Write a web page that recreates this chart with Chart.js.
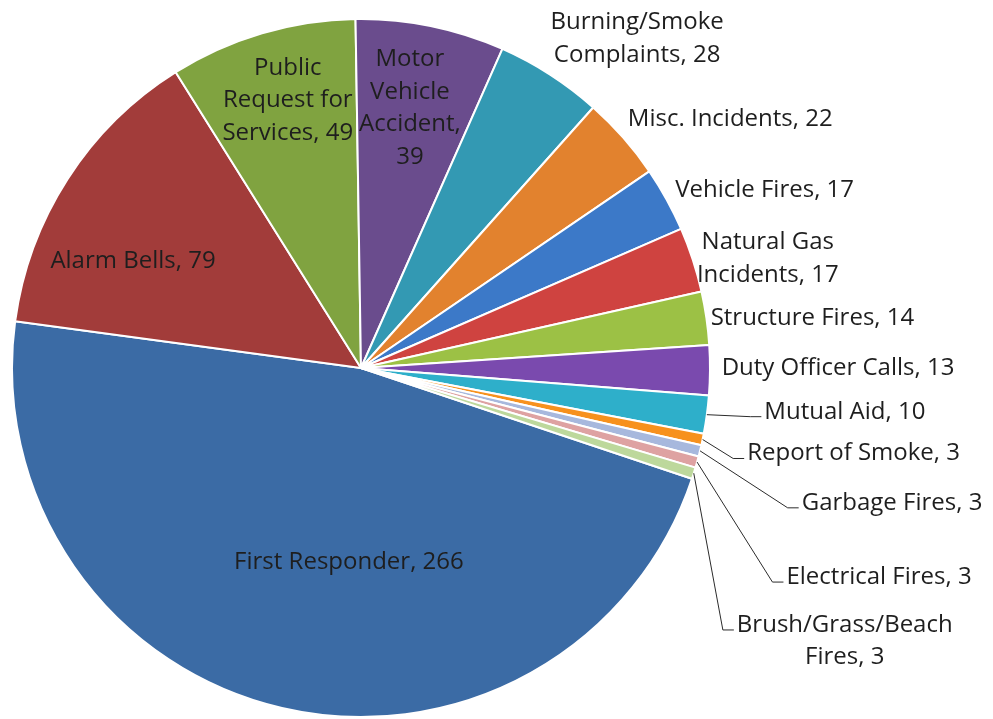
<!DOCTYPE html>
<html>
<head>
<meta charset="utf-8">
<script src="https://cdn.jsdelivr.net/npm/chart.js@4.4.0/dist/chart.umd.min.js"></script>
<style>
  html, body { margin: 0; padding: 0; background: #ffffff; }
  canvas { display: block; }
</style>
</head>
<body>
<canvas id="callsPie" width="993" height="719"></canvas>
<script>
// Calls for service by incident type
const categories = [
  'First Responder', 'Alarm Bells', 'Public Request for Services', 'Motor Vehicle Accident',
  'Burning/Smoke Complaints', 'Misc. Incidents', 'Vehicle Fires', 'Natural Gas Incidents',
  'Structure Fires', 'Duty Officer Calls', 'Mutual Aid', 'Report of Smoke',
  'Garbage Fires', 'Electrical Fires', 'Brush/Grass/Beach Fires'
];
const callCounts = [266, 79, 49, 39, 28, 22, 17, 17, 14, 13, 10, 3, 3, 3, 3];

const sliceColors = [
  '#3b6ba5', '#a23c3a', '#80a340', '#6a4c8d', '#3399b3', '#e2822e', '#3c79c8', '#cf4340',
  '#9cc145', '#7a4aae', '#2eafca', '#f7911d', '#a7b8dd', '#dea2a2', '#bdd89c'
];

// Label placement: r = fraction of the radius along the slice's middle ray,
// dx/dy = pixel nudge of the text block centre, wrap = max line width,
// leader = draw a connector from the slice edge to the text.
const labelPlacement = [
  { r: 0.57, dx: 33,  dy: 0,   wrap: 1000 },
  { r: 0.60, dx: -52, dy: 7,   wrap: 1000 },
  { r: 0.80, dx: 6,   dy: 0,   wrap: 135 },
  { r: 0.76, dx: -4,  dy: 0,   wrap: 110 },
  { r: 1.00, dx: 87,  dy: -36, wrap: 185 },
  { r: 1.00, dx: 107, dy: -19, wrap: 1000 },
  { r: 1.00, dx: 98,  dy: -9,  wrap: 1000 },
  { r: 1.00, dx: 75,  dy: -1,  wrap: 150 },
  { r: 1.00, dx: 106, dy: 0,   wrap: 1000 },
  { r: 1.00, dx: 128, dy: -2,  wrap: 1000 },
  { r: 1.00, dx: 138, dy: -3,  wrap: 1000, leader: true },
  { r: 1.00, dx: 151, dy: 14,  wrap: 1000, leader: true },
  { r: 1.00, dx: 192, dy: 52,  wrap: 1000, leader: true },
  { r: 1.00, dx: 182, dy: 115, wrap: 1000, leader: true },
  { r: 1.00, dx: 151, dy: 168, wrap: 225,  leader: true }
];

const FONT = '24px "Open Sans", "Noto Sans", sans-serif';
const TEXT_COLOR = '#1e1e1e';
const LINE_HEIGHT = 32.5;

function wrapText(ctx, text, maxWidth) {
  const words = text.split(' ');
  const lines = [];
  let current = '';
  words.forEach(word => {
    const trial = current ? current + ' ' + word : word;
    if (current && ctx.measureText(trial).width > maxWidth) {
      lines.push(current);
      current = word;
    } else {
      current = trial;
    }
  });
  if (current) lines.push(current);
  return lines;
}

const sliceLabels = {
  id: 'sliceLabels',
  afterDatasetsDraw(chart) {
    const ctx = chart.ctx;
    const meta = chart.getDatasetMeta(0);
    ctx.save();
    ctx.font = FONT;
    ctx.fillStyle = TEXT_COLOR;
    ctx.strokeStyle = '#2b2b2b';
    ctx.lineWidth = 1;
    ctx.textAlign = 'center';
    ctx.textBaseline = 'middle';
    meta.data.forEach((arc, i) => {
      const p = arc.getProps(['x', 'y', 'startAngle', 'endAngle', 'outerRadius'], true);
      const mid = (p.startAngle + p.endAngle) / 2;
      const place = labelPlacement[i];
      const cx = p.x + Math.cos(mid) * p.outerRadius * place.r + place.dx;
      const cy = p.y + Math.sin(mid) * p.outerRadius * place.r + place.dy;
      const lines = wrapText(ctx, categories[i] + ', ' + callCounts[i], place.wrap);
      const top = cy - (lines.length - 1) * LINE_HEIGHT / 2;
      lines.forEach((line, k) => ctx.fillText(line, cx, top + k * LINE_HEIGHT));
      if (place.leader) {
        const widest = Math.max(...lines.map(l => ctx.measureText(l).width));
        const left = cx - widest / 2;
        const ex = p.x + Math.cos(mid) * p.outerRadius;
        const ey = p.y + Math.sin(mid) * p.outerRadius;
        ctx.beginPath();
        ctx.moveTo(ex, ey);
        ctx.lineTo(left - 14, top + 5);
        ctx.lineTo(left - 3, top + 5);
        ctx.stroke();
      }
    });
    ctx.restore();
  }
};

new Chart(document.getElementById('callsPie'), {
  type: 'pie',
  data: {
    labels: categories,
    datasets: [{
      data: callCounts,
      backgroundColor: sliceColors,
      borderColor: '#ffffff',
      borderWidth: 2,
      hoverOffset: 0,
      offset: 0,
      radius: 349
    }]
  },
  options: {
    responsive: false,
    devicePixelRatio: 1,
    animation: false,
    rotation: 108.5,
    layout: { padding: { left: 12, right: 283, top: 19, bottom: 2 } },
    plugins: {
      legend: { display: false },
      tooltip: { enabled: false }
    }
  },
  plugins: [sliceLabels]
});
</script>
</body>
</html>
